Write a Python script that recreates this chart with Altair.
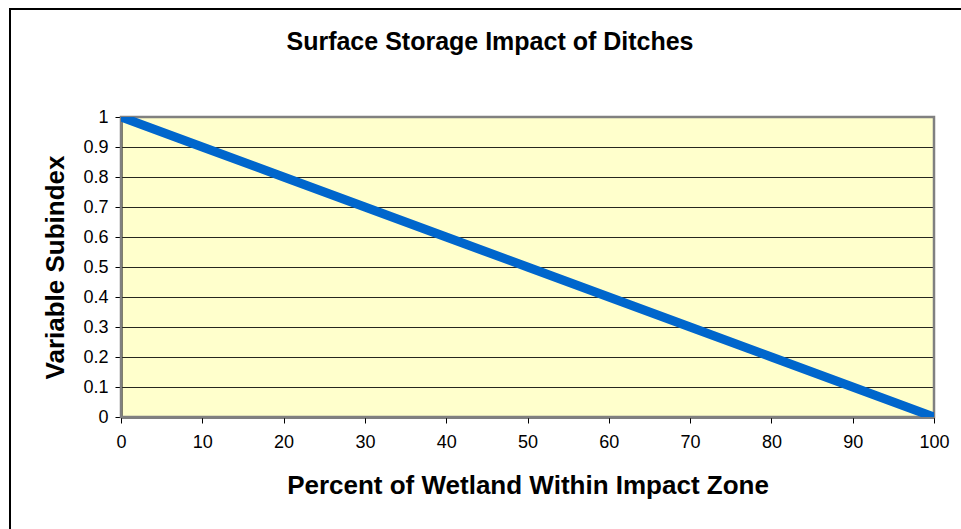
import altair as alt
import pandas as pd

# Data
percent_wetland = [0, 10, 20, 30, 40, 50, 60, 70, 80, 90, 100]
subindex = [1.0, 0.9, 0.8, 0.7, 0.6, 0.5, 0.4, 0.3, 0.2, 0.1, 0.0]
x_ticks = [0, 10, 20, 30, 40, 50, 60, 70, 80, 90, 100]
y_ticks = [0, 0.1, 0.2, 0.3, 0.4, 0.5, 0.6, 0.7, 0.8, 0.9, 1]
title_text = "Surface Storage Impact of Ditches"
x_title = "Percent of Wetland Within Impact Zone"
y_title = "Variable Subindex"

df = pd.DataFrame({"x": percent_wetland, "y": subindex})

W, H = 813, 300
PL, PT = 121, 117
FONT = "Liberation Sans"

xs = alt.Scale(domain=[0, 100], nice=False, zero=False)
ys = alt.Scale(domain=[0, 1], nice=False)

one = pd.DataFrame({"d": [0]})

# Outer chart border (decorative frame)
frame = alt.Chart(one).mark_rect(
    fill=None, stroke="black", strokeWidth=2, clip=False
).encode(
    x=alt.value(10 - PL), x2=alt.value(1000),
    y=alt.value(9 - PT), y2=alt.value(600),
)

# Plot area border: gray (top and right visible)
border = alt.Chart(one).mark_rect(
    fill=None, stroke="#808080", strokeWidth=2.5
).encode(
    x=alt.value(0), x2=alt.value(W), y=alt.value(0), y2=alt.value(H)
)

line = alt.Chart(df).mark_line(color="#0066CC", strokeWidth=9, strokeCap="butt", clip=True).encode(
    x=alt.X("x:Q", scale=xs,
            axis=alt.Axis(values=x_ticks, title=x_title, grid=False,
                          domainColor="black", domainWidth=2, tickColor="black",
                          tickWidth=1, tickSize=6, labelFont=FONT, labelFontSize=18,
                          labelColor="black", labelPadding=10,
                          titleFont=FONT, titleFontSize=26, titleFontWeight="bold",
                          titleColor="black", titleBaseline="alphabetic", titleY=76,
                          labelFlush=False)),
    y=alt.Y("y:Q", scale=ys,
            axis=alt.Axis(values=y_ticks, title=y_title, grid=True, gridColor="black",
                          gridWidth=1, gridOpacity=0.85,
                          domainColor="black", domainWidth=2, tickColor="black",
                          tickWidth=1, tickSize=6, labelFont=FONT, labelFontSize=18,
                          labelColor="black", labelPadding=7,
                          titleFont=FONT, titleFontSize=26, titleFontWeight="bold",
                          titleColor="black", titleBaseline="alphabetic",
                          titleX=-58, titleY=H / 2, titleAngle=270, titleAlign="center",
                          labelFlush=False, format="g")),
)

title = alt.Chart(pd.DataFrame({"t": [title_text]})).mark_text(
    font=FONT, fontSize=25, fontWeight="bold", color="black", baseline="alphabetic",
    align="center"
).encode(
    text="t:N", x=alt.value(490 - PL), y=alt.value(50 - PT)
)

chart = alt.layer(frame, border, line, title).properties(
    width=W, height=H,
    autosize=alt.AutoSizeParams(type="none"),
    padding={"left": PL, "top": PT, "right": 961 - PL - W, "bottom": 529 - PT - H},
    background="white",
).configure_view(stroke=None, fill="#FFFFCC")

chart.save("out.html", embed_options={"renderer": "svg", "actions": False})
